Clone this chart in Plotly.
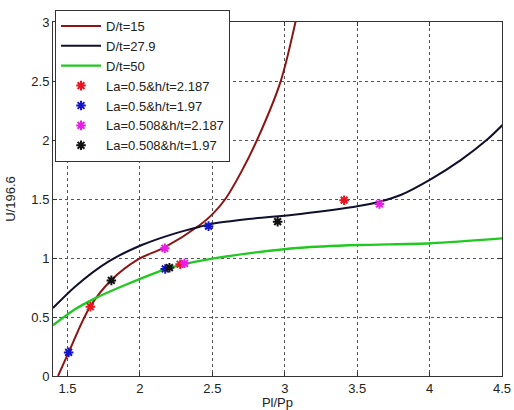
import plotly.graph_objects as go

# Curves
x_d15 = [1.435, 1.508, 1.656, 1.8, 1.99, 2.17, 2.414, 2.5, 2.59, 2.7, 2.82, 2.97, 3.078, 3.12]
y_d15 = [0.0, 0.2, 0.587, 0.81, 0.99, 1.09, 1.28, 1.37, 1.5, 1.73, 2.03, 2.49, 3.02, 3.25]

x_d279 = [1.4, 1.552, 1.782, 2.013, 2.244, 2.414, 2.5, 2.75, 3.108, 3.51, 3.654, 3.8, 4.007, 4.215, 4.4, 4.51]
y_d279 = [0.576, 0.757, 0.969, 1.11, 1.209, 1.265, 1.29, 1.33, 1.373, 1.44, 1.477, 1.534, 1.667, 1.83, 2.006, 2.135]

x_d50 = [1.4, 1.552, 1.69, 1.898, 2.163, 2.276, 2.5, 2.75, 3.108, 3.51, 4.007, 4.51]
y_d50 = [0.43, 0.565, 0.658, 0.771, 0.9, 0.94, 0.995, 1.04, 1.087, 1.11, 1.125, 1.167]

# Markers
x_a = [1.658, 2.278, 3.41]
y_a = [0.587, 0.947, 1.49]
x_b = [1.508, 2.175, 2.474]
y_b = [0.2, 0.907, 1.27]
x_c = [2.172, 2.308, 3.654]
y_c = [1.082, 0.955, 1.458]
x_e = [1.803, 2.204, 2.951]
y_e = [0.81, 0.918, 1.308]

x_ticks = [1.5, 2, 2.5, 3, 3.5, 4, 4.5]
x_ticklabels = ["1.5", "2", "2.5", "3", "3.5", "4", "4.5"]
y_ticks = [0, 0.5, 1, 1.5, 2, 2.5, 3]
y_ticklabels = ["0", "0.5", "1", "1.5", "2", "2.5", "3"]

fig = go.Figure()
fig.add_trace(go.Scatter(x=x_d15, y=y_d15, mode="lines", name="D/t=15",
                         line=dict(color="#8b1414", width=2, shape="spline", smoothing=1.0)))
fig.add_trace(go.Scatter(x=x_d279, y=y_d279, mode="lines", name="D/t=27.9",
                         line=dict(color="#10102e", width=2, shape="spline", smoothing=0.8)))
fig.add_trace(go.Scatter(x=x_d50, y=y_d50, mode="lines", name="D/t=50",
                         line=dict(color="#22c822", width=2.3, shape="spline", smoothing=0.8)))

def mk(x, y, name, color):
    fig.add_trace(go.Scatter(x=x, y=y, mode="markers", name=name,
                             marker=dict(symbol="asterisk-open", size=8, color=color,
                                         line=dict(color=color, width=2))))

mk(x_a, y_a, "La=0.5&h/t=2.187", "#e8141e")
mk(x_b, y_b, "La=0.5&h/t=1.97", "#1414c8")
mk(x_c, y_c, "La=0.508&h/t=2.187", "#e61ee6")
mk(x_e, y_e, "La=0.508&h/t=1.97", "#111111")

tf = dict(size=13, color="#222222", family="Liberation Sans")
axis_common = dict(showgrid=True, gridcolor="#555555", griddash="dot", gridwidth=1,
                   showline=True, linecolor="#333333", linewidth=1, mirror="allticks",
                   ticks="inside", ticklen=4, tickcolor="#333333", zeroline=False,
                   tickfont=tf)

fig.update_xaxes(range=[1.4, 4.5], tickvals=x_ticks, ticktext=x_ticklabels,
                 title=dict(text="Pl/Pp", font=tf, standoff=2), **axis_common)
fig.update_yaxes(range=[0, 3], tickvals=y_ticks, ticktext=y_ticklabels,
                 title=dict(text="U/196.6", font=tf, standoff=12), **axis_common)

fig.update_layout(
    width=514, height=410,
    margin=dict(l=53, r=12, t=22, b=34, autoexpand=False),
    paper_bgcolor="white", plot_bgcolor="white",
    font=dict(family="Liberation Sans", size=13, color="#222222"),
    legend=dict(x=0.0045, y=1.034, xanchor="left", yanchor="top",
                bgcolor="white", bordercolor="#333333", borderwidth=1,
                font=dict(size=13, color="#222222", family="Liberation Sans"),
                itemwidth=40, tracegroupgap=0),
    showlegend=True,
)

fig.write_html("out.html", config={"displayModeBar": False},
               post_script="document.body.style.margin='0';document.body.style.overflow='hidden';")
